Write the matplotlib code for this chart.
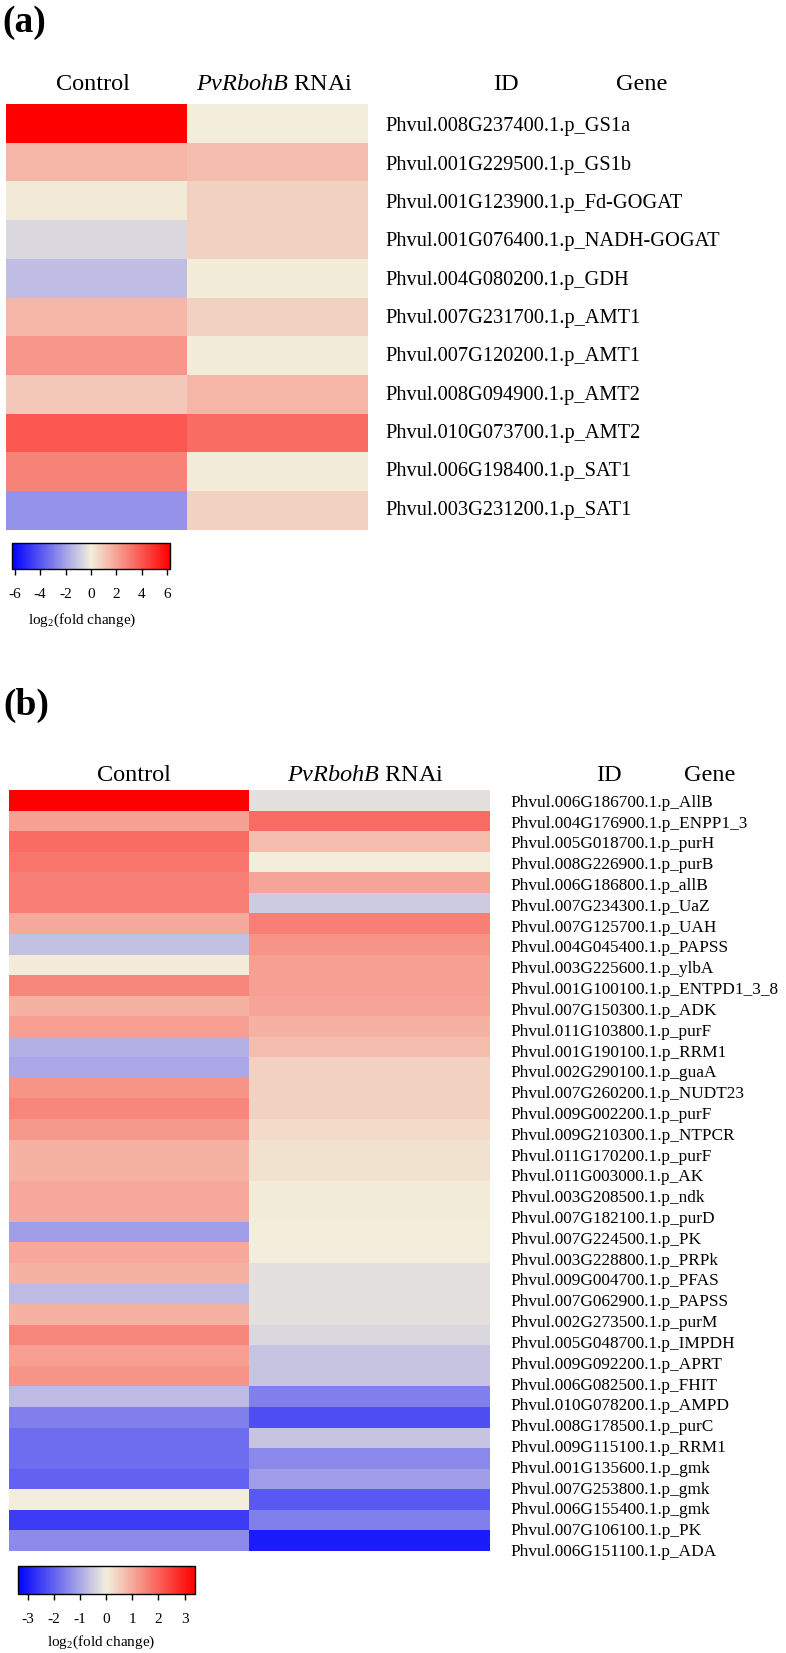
import numpy as np
import matplotlib
matplotlib.use('Agg')
import matplotlib.pyplot as plt
import matplotlib.transforms as mtransforms
from matplotlib.colors import LinearSegmentedColormap, Normalize
from matplotlib.cm import ScalarMappable

plt.rcParams['font.family'] = ['Liberation Serif', 'DejaVu Serif']
plt.rcParams['mathtext.fontset'] = 'custom'
plt.rcParams['mathtext.rm'] = 'Liberation Serif'
plt.rcParams['mathtext.it'] = 'Liberation Serif:italic'
plt.rcParams['axes.unicode_minus'] = False

W, H = 786, 1653

# ---- panel (a): N metabolism genes, log2 fold change
genes_a = [
    "Phvul.008G237400.1.p_GS1a", "Phvul.001G229500.1.p_GS1b",
    "Phvul.001G123900.1.p_Fd-GOGAT", "Phvul.001G076400.1.p_NADH-GOGAT",
    "Phvul.004G080200.1.p_GDH", "Phvul.007G231700.1.p_AMT1",
    "Phvul.007G120200.1.p_AMT1", "Phvul.008G094900.1.p_AMT2",
    "Phvul.010G073700.1.p_AMT2", "Phvul.006G198400.1.p_SAT1",
    "Phvul.003G231200.1.p_SAT1",
]
control_a = [6.2, 1.5, 0.1, -0.6, -1.3, 1.5, 2.3, 1.0, 3.9, 2.8, -2.4]
rnai_a = [0.0, 1.3, 0.75, 0.75, 0.05, 0.75, 0.05, 1.5, 3.35, 0.05, 0.75]
ticks_a = [-6, -4, -2, 0, 2, 4, 6]

# ---- panel (b): purine / ureide genes
genes_b = [
    "Phvul.006G186700.1.p_AllB", "Phvul.004G176900.1.p_ENPP1_3",
    "Phvul.005G018700.1.p_purH", "Phvul.008G226900.1.p_purB",
    "Phvul.006G186800.1.p_allB", "Phvul.007G234300.1.p_UaZ",
    "Phvul.007G125700.1.p_UAH", "Phvul.004G045400.1.p_PAPSS",
    "Phvul.003G225600.1.p_ylbA", "Phvul.001G100100.1.p_ENTPD1_3_8",
    "Phvul.007G150300.1.p_ADK", "Phvul.011G103800.1.p_purF",
    "Phvul.001G190100.1.p_RRM1", "Phvul.002G290100.1.p_guaA",
    "Phvul.007G260200.1.p_NUDT23", "Phvul.009G002200.1.p_purF",
    "Phvul.009G210300.1.p_NTPCR", "Phvul.011G170200.1.p_purF",
    "Phvul.011G003000.1.p_AK", "Phvul.003G208500.1.p_ndk",
    "Phvul.007G182100.1.p_purD", "Phvul.007G224500.1.p_PK",
    "Phvul.003G228800.1.p_PRPk", "Phvul.009G004700.1.p_PFAS",
    "Phvul.007G062900.1.p_PAPSS", "Phvul.002G273500.1.p_purM",
    "Phvul.005G048700.1.p_IMPDH", "Phvul.009G092200.1.p_APRT",
    "Phvul.006G082500.1.p_FHIT", "Phvul.010G078200.1.p_AMPD",
    "Phvul.008G178500.1.p_purC", "Phvul.009G115100.1.p_RRM1",
    "Phvul.001G135600.1.p_gmk", "Phvul.007G253800.1.p_gmk",
    "Phvul.006G155400.1.p_gmk", "Phvul.007G106100.1.p_PK",
    "Phvul.006G151100.1.p_ADA",
]
control_b = [3.4, 1.1, 1.85, 1.7, 1.57, 1.57, 1.0, -0.66, 0.05, 1.48,
             0.85, 1.13, -0.9, -1.0, 1.3, 1.48, 1.2, 0.85, 0.85, 1.0,
             1.0, -1.15, 1.0, 0.85, -0.73, 0.85, 1.48, 1.13, 1.3, -0.73,
             -1.57, -1.85, -1.85, -2.0, 0.0, -2.55, -1.43]
rnai_b = [-0.2, 1.85, 0.7, 0.0, 1.05, -0.48, 1.57, 1.3, 1.13, 1.13,
          1.05, 0.85, 0.7, 0.4, 0.4, 0.4, 0.27, 0.16, 0.16, 0.05,
          0.05, 0.0, 0.0, -0.2, -0.2, -0.2, -0.34, -0.6, -0.6, -1.57,
          -2.28, -0.6, -1.46, -1.15, -2.13, -1.57, -2.98]
ticks_b = [-3, -2, -1, 0, 1, 2, 3]

cmap = LinearSegmentedColormap.from_list("bwr_beige", ["#0000FF", "#F2EFDC", "#FF0000"])

fig = plt.figure(figsize=(W / 100, H / 100), dpi=100)


def px_axes(x0, y0, x1, y1):
    return fig.add_axes([x0 / W, 1 - y1 / H, (x1 - x0) / W, (y1 - y0) / H])


def ftext(x, y, s, **kw):
    fig.text(x / W, 1 - y / H, s, **kw)


def heatmap(box, control, rnai, genes, lim, lab_x, lab_y0, lab_step, fs):
    ax = px_axes(*box)
    mat = np.column_stack([control, rnai])
    ax.imshow(mat, cmap=cmap, vmin=-lim, vmax=lim, aspect='auto',
              interpolation='nearest')
    ax.set_axis_off()
    trans = mtransforms.blended_transform_factory(fig.transFigure, ax.transData)
    for i, g in enumerate(genes):
        ax.text(lab_x / W, lab_y0 + i * lab_step, g, transform=trans,
                ha='left', va='center', fontsize=fs, clip_on=False)
    return ax


def colorbar(box, lim, ticks, pad):
    cax = px_axes(*box)
    sm = ScalarMappable(norm=Normalize(-lim, lim), cmap=cmap)
    cb = fig.colorbar(sm, cax=cax, orientation='horizontal')
    cb.set_ticks(ticks)
    cb.set_ticklabels([str(t) for t in ticks])
    cb.outline.set_linewidth(1.0)
    cax.tick_params(axis='x', length=4.5, width=1, pad=pad, labelsize=11)
    return cb


italic_head = r'$\mathit{PvRbohB}$ RNAi'

# ---------------- panel (a)
ftext(2, 22, "(a)", fontsize=27, fontweight='bold', ha='left', va='center')
ftext(93, 85, "Control", fontsize=17.5, ha='center', va='center')
ftext(275, 85, italic_head, fontsize=17.5, ha='center', va='center')
ftext(506, 85, "ID", fontsize=17.5, ha='center', va='center')
ftext(642, 85, "Gene", fontsize=17.5, ha='center', va='center')
heatmap((6, 104, 367, 530), control_a, rnai_a, genes_a, 6.2,
        385, 0.09, 0.99, 14.7)
colorbar((12, 543, 170, 569), 6.2, ticks_a, 9)
ftext(82, 620, r'log$_{\mathrm{2}}$(fold change)', fontsize=11,
      ha='center', va='center')

# ---------------- panel (b)
ftext(3, 705, "(b)", fontsize=27, fontweight='bold', ha='left', va='center')
ftext(134, 775, "Control", fontsize=17.5, ha='center', va='center')
ftext(366, 775, italic_head, fontsize=17.5, ha='center', va='center')
ftext(609, 775, "ID", fontsize=17.5, ha='center', va='center')
ftext(710, 775, "Gene", fontsize=17.5, ha='center', va='center')
heatmap((8.5, 790, 489, 1551), control_b, rnai_b, genes_b, 3.4,
        510, 0.12, 1.012, 12.4)
colorbar((17.5, 1566, 195, 1594), 3.4, ticks_b, 9)
ftext(101, 1642, r'log$_{\mathrm{2}}$(fold change)', fontsize=11,
      ha='center', va='center')

fig.savefig("out.png", dpi=100)
plt.close(fig)
